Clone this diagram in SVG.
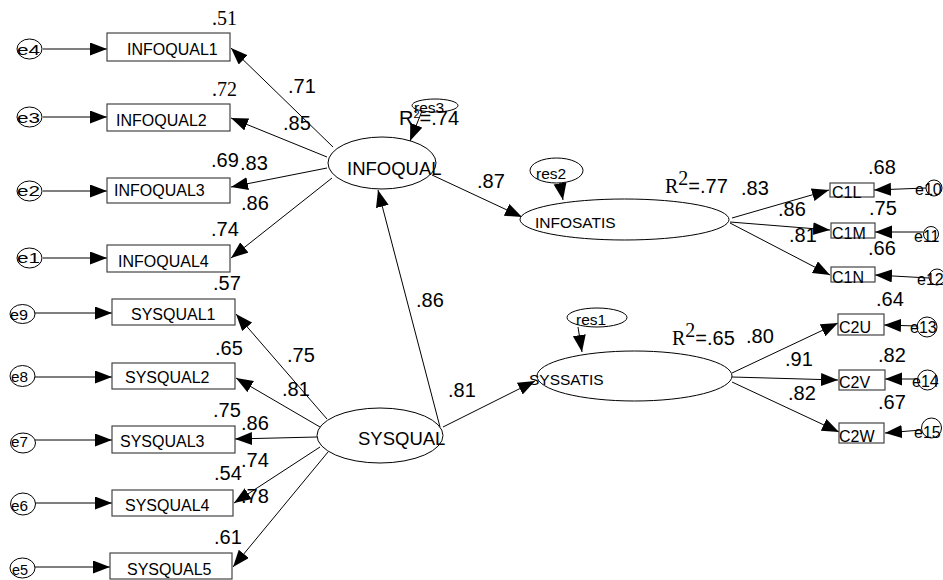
<svg xmlns="http://www.w3.org/2000/svg" width="943" height="580" viewBox="0 0 943 580">
  <style>
    .bg { fill: #ffffff; }
    .obs { fill: #ffffff; stroke: #444444; stroke-width: 1.2; }
    .lat { fill: #ffffff; stroke: #000000; stroke-width: 1; }
    .err { fill: #ffffff; stroke: #000000; stroke-width: 1; }
    .edge { fill: none; stroke: #000000; stroke-width: 1; marker-end: url(#arrow); }
    .lbl { font-family: "Liberation Sans", Arial, sans-serif; font-size: 20px; fill: #000000; }
    .lbls { font-family: "Liberation Serif", "Times New Roman", serif; font-size: 20px; fill: #000000; }
    .box { font-family: "Liberation Sans", Arial, sans-serif; font-size: 16px; fill: #000000; }
    .lv { font-family: "Liberation Sans", Arial, sans-serif; font-size: 18.5px; fill: #000000; }
    .lv2 { font-family: "Liberation Sans", Arial, sans-serif; font-size: 15.5px; fill: #000000; }
    .et { font-family: "Liberation Sans", Arial, sans-serif; font-size: 15px; fill: #000000; }
    .rt { font-family: "Liberation Sans", Arial, sans-serif; font-size: 15.5px; fill: #000000; }
    .rr { font-family: "Liberation Serif", "Times New Roman", serif; font-size: 20px; fill: #000000; }
  </style>
  <defs>
    <marker id="arrow" markerUnits="userSpaceOnUse" markerWidth="18" markerHeight="14" refX="17" refY="6.5" orient="auto">
      <path d="M0,0 L17,6.5 L0,13 Z" fill="#000000"/>
    </marker>
  </defs>

  <rect class="bg" x="0" y="0" width="943" height="580"/>

  <!-- paths -->
  <g id="connectors">
    <!-- error terms into INFOQUAL indicators -->
    <path class="edge" d="M43,49 L107,49"/>
    <path class="edge" d="M43,117 L107,117"/>
    <path class="edge" d="M43,191 L107,191"/>
    <path class="edge" d="M43,258 L107,258"/>
    <!-- error terms into SYSQUAL indicators -->
    <path class="edge" d="M35,313 L112,313"/>
    <path class="edge" d="M35,377 L112,377"/>
    <path class="edge" d="M35,440 L112,440"/>
    <path class="edge" d="M35,503 L112,503"/>
    <path class="edge" d="M35,567 L110,567"/>
    <!-- INFOQUAL loadings -->
    <path class="edge" d="M333,147 L231,48"/>
    <path class="edge" d="M327,157 L231,118"/>
    <path class="edge" d="M327,168 L231,187"/>
    <path class="edge" d="M332,178 L231,258"/>
    <!-- SYSQUAL loadings -->
    <path class="edge" d="M327,419 L236,314"/>
    <path class="edge" d="M320,427 L236,378"/>
    <path class="edge" d="M317,437 L235,439"/>
    <path class="edge" d="M320,447 L234,503"/>
    <path class="edge" d="M328,452 L233,567"/>
    <!-- structural paths -->
    <path class="edge" d="M440,427 L378,190"/>
    <path class="edge" d="M432,175 L522,217"/>
    <path class="edge" d="M443,427 L535,381"/>
    <!-- residuals -->
    <path class="edge" d="M422,111 L410,141"/>
    <path class="edge" d="M560,183 L563,200"/>
    <path class="edge" d="M578,327 L582,352"/>
    <!-- INFOSATIS loadings -->
    <path class="edge" d="M732,218 L829,190"/>
    <path class="edge" d="M730,222 L830,230"/>
    <path class="edge" d="M730,223 L830,275"/>
    <!-- SYSSATIS loadings -->
    <path class="edge" d="M732,373 L838,323"/>
    <path class="edge" d="M732,377 L838,380"/>
    <path class="edge" d="M732,382 L839,432"/>
    <!-- right-hand error terms -->
    <path class="edge" d="M926,188 L874,190"/>
    <path class="edge" d="M923,232 L875,232"/>
    <path class="edge" d="M929,278 L875,275"/>
    <path class="edge" d="M917,326 L884,325"/>
    <path class="edge" d="M917,379 L885,379"/>
    <path class="edge" d="M921,430 L885,433"/>
  </g>

  <!-- INFOQUAL indicators -->
  <g id="e4"><ellipse class="err" cx="29.5" cy="49" rx="12.5" ry="10"/><text class="et" x="17" y="55" textLength="23" lengthAdjust="spacingAndGlyphs">e4</text></g>
  <g id="e3"><ellipse class="err" cx="29.5" cy="117" rx="12.5" ry="10"/><text class="et" x="17" y="123" textLength="23" lengthAdjust="spacingAndGlyphs">e3</text></g>
  <g id="e2"><ellipse class="err" cx="29.5" cy="191" rx="12.5" ry="10"/><text class="et" x="17" y="196" textLength="23" lengthAdjust="spacingAndGlyphs">e2</text></g>
  <g id="e1"><ellipse class="err" cx="29.5" cy="258" rx="12.5" ry="10"/><text class="et" x="17" y="263" textLength="23" lengthAdjust="spacingAndGlyphs">e1</text></g>

  <g id="INFOQUAL1"><rect class="obs" x="107" y="33" width="123" height="28"/><text class="box" x="127" y="55">INFOQUAL1</text></g>
  <g id="INFOQUAL2"><rect class="obs" x="107" y="104" width="123" height="27"/><text class="box" x="116" y="126">INFOQUAL2</text></g>
  <g id="INFOQUAL3"><rect class="obs" x="107" y="178" width="123" height="25"/><text class="box" x="114" y="196">INFOQUAL3</text></g>
  <g id="INFOQUAL4"><rect class="obs" x="107" y="245" width="123" height="27"/><text class="box" x="118" y="267">INFOQUAL4</text></g>

  <!-- SYSQUAL indicators -->
  <g id="e9"><ellipse class="err" cx="22.5" cy="314" rx="12.5" ry="9.5"/><text class="et" x="10" y="320" textLength="18" lengthAdjust="spacingAndGlyphs">e9</text></g>
  <g id="e8"><ellipse class="err" cx="22.5" cy="376" rx="12.5" ry="10.5"/><text class="et" x="11" y="382" textLength="17" lengthAdjust="spacingAndGlyphs">e8</text></g>
  <g id="e7"><ellipse class="err" cx="23" cy="443" rx="12.5" ry="10"/><text class="et" x="11" y="447" textLength="17" lengthAdjust="spacingAndGlyphs">e7</text></g>
  <g id="e6"><ellipse class="err" cx="23" cy="504" rx="12.5" ry="11"/><text class="et" x="11" y="511" textLength="17" lengthAdjust="spacingAndGlyphs">e6</text></g>
  <g id="e5"><ellipse class="err" cx="22.5" cy="568" rx="12.5" ry="10"/><text class="et" x="12" y="575" textLength="16" lengthAdjust="spacingAndGlyphs">e5</text></g>

  <g id="SYSQUAL1"><rect class="obs" x="112" y="299" width="123" height="26"/><text class="box" x="131" y="320">SYSQUAL1</text></g>
  <g id="SYSQUAL2"><rect class="obs" x="112" y="363" width="123" height="26"/><text class="box" x="125" y="383">SYSQUAL2</text></g>
  <g id="SYSQUAL3"><rect class="obs" x="112" y="426" width="123" height="27"/><text class="box" x="120" y="447">SYSQUAL3</text></g>
  <g id="SYSQUAL4"><rect class="obs" x="112" y="490" width="121" height="26"/><text class="box" x="125" y="511">SYSQUAL4</text></g>
  <g id="SYSQUAL5"><rect class="obs" x="110" y="553" width="122" height="26"/><text class="box" x="127" y="575">SYSQUAL5</text></g>

  <!-- latent variables -->
  <g id="INFOQUAL"><ellipse class="lat" cx="382" cy="163" rx="54" ry="26"/><text class="lv" x="347" y="175">INFOQUAL</text></g>
  <g id="SYSQUAL"><ellipse class="lat" cx="380" cy="435.5" rx="63" ry="27.5"/><text class="lv" x="358" y="445">SYSQUAL</text></g>
  <g id="INFOSATIS"><ellipse class="lat" cx="624.5" cy="219.5" rx="104.5" ry="20.5"/><text class="lv2" x="535" y="228">INFOSATIS</text></g>
  <g id="SYSSATIS"><ellipse class="lat" cx="634.5" cy="376" rx="97.5" ry="25"/><text class="lv2" x="529" y="385">SYSSATIS</text></g>

  <!-- residuals -->
  <g id="res3"><ellipse class="err" cx="435" cy="105.5" rx="23" ry="6.5"/><text class="rt" x="414" y="113">res3</text></g>
  <g id="res2"><ellipse class="err" cx="556.5" cy="170.5" rx="26.5" ry="12.5"/><text class="rt" x="536" y="179">res2</text></g>
  <g id="res1"><ellipse class="err" cx="597" cy="317.5" rx="30" ry="9.5"/><text class="rt" x="576" y="325">res1</text></g>

  <!-- INFOSATIS indicators -->
  <g id="C1L"><rect class="obs" x="830" y="183" width="44" height="14"/><text class="box" x="832" y="198">C1L</text></g>
  <g id="C1M"><rect class="obs" x="831" y="223" width="44" height="15"/><text class="box" x="832" y="239">C1M</text></g>
  <g id="C1N"><rect class="obs" x="831" y="267" width="44" height="15"/><text class="box" x="832" y="283">C1N</text></g>
  <g id="e10"><circle class="err" cx="934" cy="188" r="8"/><text class="box" x="915" y="195">e10</text></g>
  <g id="e11"><circle class="err" cx="931" cy="234" r="7.5"/><text class="box" x="914" y="242">e11</text></g>
  <g id="e12"><circle class="err" cx="937" cy="277" r="8"/><text class="box" x="917" y="285">e12</text></g>

  <!-- SYSSATIS indicators -->
  <g id="C2U"><rect class="obs" x="838" y="314" width="46" height="21"/><text class="box" x="839" y="333">C2U</text></g>
  <g id="C2V"><rect class="obs" x="839" y="370" width="46" height="20"/><text class="box" x="839" y="388">C2V</text></g>
  <g id="C2W"><rect class="obs" x="839" y="423" width="45" height="20"/><text class="box" x="839" y="442">C2W</text></g>
  <g id="e13"><circle class="err" cx="927" cy="327" r="10"/><text class="box" x="910" y="333">e13</text></g>
  <g id="e14"><circle class="err" cx="927.5" cy="380" r="10"/><text class="box" x="912" y="387">e14</text></g>
  <g id="e15"><circle class="err" cx="931.5" cy="428" r="10"/><text class="box" x="914" y="438">e15</text></g>

  <!-- estimates -->
  <g id="estimates">
    <text class="lbls" x="212" y="25">.51</text>
    <text class="lbls" x="212" y="96">.72</text>
    <text class="lbl" x="211" y="167">.69</text>
    <text class="lbl" x="240" y="170">.83</text>
    <text class="lbl" x="211" y="236">.74</text>
    <text class="lbl" x="288" y="93">.71</text>
    <text class="lbl" x="283" y="130">.85</text>
    <text class="lbl" x="241" y="210">.86</text>
    <text class="lbl" x="399" y="125">R<tspan font-size="11" dy="-7">2</tspan><tspan dy="7">=.74</tspan></text>
    <text class="lbl" x="477" y="188">.87</text>
    <text class="lbl" x="665" y="193"><tspan class="rr">R</tspan><tspan class="rr" font-size="11" dy="-8">2</tspan><tspan dy="8">=.77</tspan></text>
    <text class="lbl" x="741" y="195">.83</text>
    <text class="lbl" x="778" y="216">.86</text>
    <text class="lbl" x="789" y="242" font-size="25">.81</text>
    <text class="lbl" x="868" y="174">.68</text>
    <text class="lbl" x="869" y="215">.75</text>
    <text class="lbl" x="868" y="255">.66</text>

    <text class="lbl" x="213" y="290">.57</text>
    <text class="lbl" x="215" y="355">.65</text>
    <text class="lbl" x="213" y="417">.75</text>
    <text class="lbl" x="214" y="480">.54</text>
    <text class="lbl" x="214" y="544">.61</text>
    <text class="lbl" x="287" y="362">.75</text>
    <text class="lbl" x="282" y="396">.81</text>
    <text class="lbl" x="241" y="430">.86</text>
    <text class="lbl" x="241" y="467">.74</text>
    <text class="lbl" x="241" y="503">.78</text>
    <text class="lbl" x="416" y="307">.86</text>
    <text class="lbl" x="448" y="397">.81</text>
    <text class="lbl" x="672" y="345"><tspan class="rr">R</tspan><tspan class="rr" font-size="11" dy="-8">2</tspan><tspan dy="8">=.65</tspan></text>
    <text class="lbl" x="746" y="343">.80</text>
    <text class="lbl" x="785" y="366">.91</text>
    <text class="lbl" x="788" y="400">.82</text>
    <text class="lbl" x="876" y="306">.64</text>
    <text class="lbl" x="878" y="362">.82</text>
    <text class="lbl" x="878" y="409">.67</text>
  </g>
</svg>
